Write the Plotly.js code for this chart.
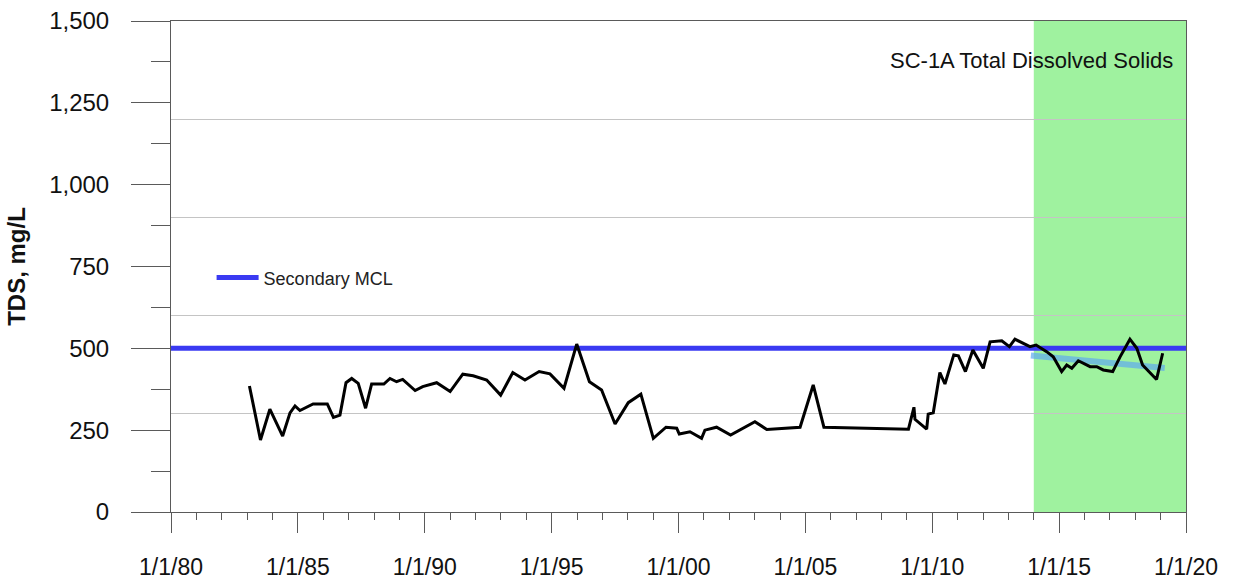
<!DOCTYPE html>
<html>
<head>
<meta charset="utf-8">
<script src="https://cdn.plot.ly/plotly-3.0.1.min.js"></script>
<style>html,body{margin:0;padding:0;background:#fff;}#chart{width:1241px;height:585px;}</style>
</head>
<body>
<div id="chart"></div>
<script>
// Sample dates and TDS values (mg/L)
const sampleDates = [
  '1983-02-03','1983-07-12','1983-11-24','1984-05-26','1984-09-09','1984-11-20','1985-01-30','1985-08-08',
  '1986-02-28','1986-05-27','1986-08-29','1986-11-24','1987-02-14','1987-05-19','1987-09-02','1987-11-28',
  '1988-05-22','1988-08-18','1988-11-21','1989-02-17','1989-08-15','1989-12-02','1990-06-21','1991-01-01',
  '1991-07-02','1991-11-28','1992-06-10','1992-12-28','1993-06-21','1993-12-13','1994-07-05','1994-12-08',
  '1995-06-28','1995-12-28','1996-06-28','1996-12-20','1997-07-02','1998-01-08','1998-07-08','1999-01-04',
  '1999-07-05','1999-12-06','2000-01-12','2000-06-14','2000-11-28','2001-01-15','2001-07-02','2002-01-20',
  '2003-01-05','2003-06-25','2004-10-16','2005-04-23','2005-09-24','2009-01-23','2009-04-12','2009-04-27',
  '2009-10-12','2009-11-03','2010-01-15','2010-04-20','2010-07-02','2010-11-06','2011-01-12','2011-04-23',
  '2011-08-08','2012-01-05','2012-04-12','2012-09-27','2013-01-15','2013-04-05','2013-08-04','2013-11-06',
  '2014-02-03','2014-07-05','2014-10-08','2015-02-06','2015-04-20','2015-07-02','2015-10-04','2016-03-22',
  '2016-06-25','2016-09-27','2017-02-10','2017-05-27','2017-10-16','2018-01-23','2018-04-16','2018-11-03',
  '2019-01-30'
];
const tdsValues = [
  385,220,314,232,303,324,310,330,
  330,289,296,395,408,393,317,391,
  391,408,398,405,371,383,395,368,
  421,416,403,357,426,403,429,422,
  378,513,398,373,269,334,360,225,
  259,256,238,245,225,250,259,235,
  276,252,259,388,259,253,320,283,
  253,299,303,426,391,480,477,429,
  495,439,520,523,505,528,515,505,
  510,490,474,429,449,439,462,444,
  444,434,429,474,528,500,449,405,
  485
];
// Secondary MCL
const mclName = 'Secondary MCL';
const mclDates = ['1980-01-01','2020-01-01'];
const mclValues = [500, 500];
// Trend in recent period
const trendDates = ['2013-11-20','2019-03-01'];
const trendValues = [478, 440];
// Highlighted period
const highlightStart = '2014-01-01';
const highlightEnd = '2020-01-01';
// Axis ticks
const xTickVals = ['1980-01-01','1985-01-01','1990-01-01','1995-01-01','2000-01-01','2005-01-01','2010-01-01','2015-01-01','2020-01-01'];
const xTickText = ['1/1/80','1/1/85','1/1/90','1/1/95','1/1/00','1/1/05','1/1/10','1/1/15','1/1/20'];
const yTickVals = [0,250,500,750,1000,1250,1500];
const yTickText = ['0','250','500','750','1,000','1,250','1,500'];
const chartTitle = 'SC-1A Total Dissolved Solids';
const yTitle = 'TDS, mg/L';

const FONT = 'Liberation Sans, Arial, sans-serif';
const axisCol = '#5a5a5a';

const traces = [
  {x: trendDates, y: trendValues, type: 'scatter', mode: 'lines', showlegend: false,
   line: {color: 'rgba(95,170,240,0.7)', width: 6}, hoverinfo: 'skip'},
  {x: mclDates, y: mclValues, type: 'scatter', mode: 'lines', name: mclName,
   line: {color: '#3a3af2', width: 5}},
  {x: sampleDates, y: tdsValues, type: 'scatter', mode: 'lines', showlegend: false,
   line: {color: '#000000', width: 3}},
  // invisible trace carrying the 300-step gridlines
  {x: mclDates, y: [0, 0], yaxis: 'y2', type: 'scatter', mode: 'lines', showlegend: false,
   line: {width: 0}, hoverinfo: 'skip'}
];

const layout = {
  width: 1241, height: 585,
  margin: {l: 171, r: 55, t: 21, b: 73},
  paper_bgcolor: '#ffffff', plot_bgcolor: 'rgba(0,0,0,0)',
  font: {family: FONT, color: '#111'},
  showlegend: true,
  legend: {x: 0.04, y: 0.477, xanchor: 'left', yanchor: 'middle', bgcolor: 'rgba(0,0,0,0)',
           itemwidth: 42, font: {family: FONT, size: 18, color: '#222'}},
  xaxis: {
    type: 'date', range: ['1980-01-01','2020-01-01'],
    tickmode: 'array', tickvals: xTickVals, ticktext: xTickText,
    ticks: 'outside', ticklen: 20, tickcolor: axisCol, tickwidth: 1,
    minor: {dtick: 'M12', tick0: '1980-01-01', ticks: 'outside', ticklen: 7, tickcolor: axisCol, showgrid: false},
    showline: true, linecolor: axisCol, linewidth: 1, mirror: true,
    showgrid: false, zeroline: false,
    tickfont: {family: FONT, size: 23, color: '#111'},
    ticklabelstandoff: 14
  },
  yaxis: {
    range: [0, 1500], tickmode: 'array', tickvals: yTickVals, ticktext: yTickText,
    ticks: 'outside', ticklen: 39, tickcolor: axisCol, tickwidth: 1,
    minor: {dtick: 125, tick0: 0, ticks: 'outside', ticklen: 19, tickcolor: axisCol, showgrid: false},
    showline: true, linecolor: axisCol, linewidth: 1, mirror: true,
    showgrid: false, zeroline: false,
    tickfont: {family: FONT, size: 24, color: '#111'},
    ticklabelstandoff: 17,
    title: {text: '<b>' + yTitle + '</b>', font: {family: FONT, size: 24, color: '#111'}, standoff: 16}
  },
  yaxis2: {
    overlaying: 'y', range: [0, 1500], tick0: 0, dtick: 300,
    showgrid: true, gridcolor: '#c4c4c4', gridwidth: 1,
    showticklabels: false, ticks: '', zeroline: false, showline: false
  },
  shapes: [
    {type: 'rect', xref: 'x', yref: 'paper', x0: highlightStart, x1: highlightEnd, y0: 0, y1: 1,
     fillcolor: '#9ff29f', line: {width: 0}, layer: 'below'}
  ],
  annotations: [
    {text: chartTitle, xref: 'paper', yref: 'paper', x: 0.989, y: 0.92, xanchor: 'right', yanchor: 'middle',
     showarrow: false, font: {family: FONT, size: 22, color: '#111'}}
  ]
};

Plotly.newPlot('chart', traces, layout, {displayModeBar: false, staticPlot: true});
</script>
</body>
</html>
